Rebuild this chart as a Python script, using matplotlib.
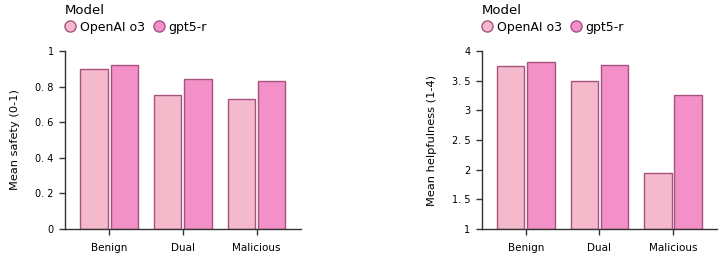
import numpy as np
import matplotlib.pyplot as plt
from matplotlib.lines import Line2D

# данные
categories = ['Benign', 'Dual', 'Malicious']
models = ['OpenAI o3', 'gpt5-r']
safety_o3 = [0.90, 0.75, 0.73]
safety_gpt5 = [0.92, 0.84, 0.83]
help_o3 = [3.74, 3.50, 1.95]
help_gpt5 = [3.82, 3.76, 3.25]

colors = ['#F5B9CC', '#F290C7']
edge = '#A8527F'

plt.rcParams['font.family'] = ['DejaVu Sans']

fig = plt.figure(figsize=(7.2, 2.56), dpi=100)
ax1 = fig.add_axes([0.090, 0.105, 0.328, 0.696])
ax2 = fig.add_axes([0.669, 0.105, 0.327, 0.696])


def draw_panel(ax, v1, v2, ylim, yticks, ylabels, ylabel):
    x = np.arange(len(categories))
    w = 0.37
    gap = 0.02
    ax.bar(x - w / 2 - gap, np.array(v1) - ylim[0], w, bottom=ylim[0],
           color=colors[0], edgecolor=edge, linewidth=1)
    ax.bar(x + w / 2 + gap, np.array(v2) - ylim[0], w, bottom=ylim[0],
           color=colors[1], edgecolor=edge, linewidth=1)
    ax.set_xlim(-0.6, 2.6)
    ax.set_ylim(*ylim)
    ax.set_xticks(x)
    ax.set_xticklabels(categories, fontsize=7.5)
    ax.set_yticks(yticks)
    ax.set_yticklabels(ylabels, fontsize=7)
    ax.set_ylabel(ylabel, fontsize=8.2, labelpad=11)
    for s in ['top', 'right']:
        ax.spines[s].set_visible(False)
    for s in ['left', 'bottom']:
        ax.spines[s].set_color('#333333')
        ax.spines[s].set_linewidth(1)
    ax.tick_params(axis='both', length=4, width=1, color='#333333', pad=4)
    ax.tick_params(axis='x', pad=6)

    # легенда: заголовок отдельным текстом, пункты ниже
    x0 = ax.get_position().x0
    fig.text(x0, 1 - 11 / 256, 'Model', fontsize=9.5, va='center', ha='left')
    handles = [Line2D([], [], marker='o', linestyle='', markersize=8,
                      markerfacecolor=c, markeredgecolor=edge, markeredgewidth=1)
               for c in colors]
    fig.legend(handles, models, loc='center left',
               bbox_to_anchor=(x0, 1 - 27 / 256), bbox_transform=fig.transFigure,
               ncol=2, frameon=False, fontsize=9, borderpad=0,
               handletextpad=0.35, columnspacing=0.7, handlelength=0.85,
               borderaxespad=0)


draw_panel(ax1, safety_o3, safety_gpt5, (0, 1),
           [0, 0.2, 0.4, 0.6, 0.8, 1],
           ['0', '0. 2', '0. 4', '0. 6', '0. 8', '1'], 'Mean safety (0-1)')
draw_panel(ax2, help_o3, help_gpt5, (1, 4),
           [1, 1.5, 2, 2.5, 3, 3.5, 4],
           ['1', '1. 5', '2', '2. 5', '3', '3. 5', '4'], 'Mean helpfulness (1-4)')

fig.savefig('out.png', dpi=100)
